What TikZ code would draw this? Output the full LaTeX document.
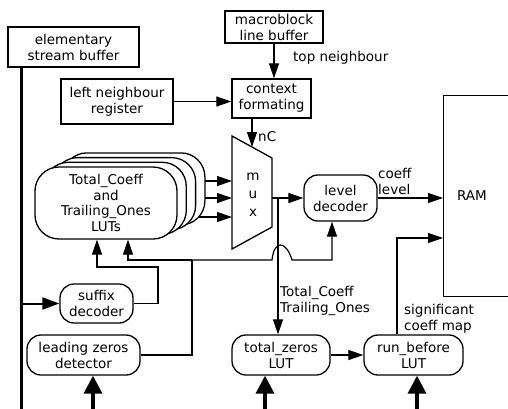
\documentclass[tikz,border=0pt]{standalone}
\usepackage{fontspec}
\setmainfont{DejaVu Sans}
\usetikzlibrary{arrows.meta,backgrounds,calc}
\begin{document}
\begin{tikzpicture}[x=1pt,y=-1pt,
  font=\fontsize{13.5}{16}\selectfont,
  box/.style={draw,line width=1.3pt,fill=white,align=center,inner sep=0pt},
  rbox/.style={box,rounded corners=14pt},
  outline/.style={draw,line width=1.3pt,fill=white},
  wire/.style={line width=1.2pt},
  arr/.style={wire,-{Triangle[length=15pt,width=10pt]}},
  medarr/.style={line width=2pt,-{Triangle[length=17pt,width=12pt]}},
  bigarr/.style={line width=3.5pt,-{Triangle[length=18pt,width=18pt]}},
  bus/.style={line width=3pt},
  lbl/.style={inner sep=1pt,align=left}
]
\useasboundingbox (0,0) rectangle (508,408);

% boxes
\node[box,minimum width=131pt,minimum height=40pt] (esb) at (73.5,47) {elementary\\stream buffer};
\node[box,minimum width=112pt,minimum height=45pt] (lnr) at (117,101.5) {left neighbour\\register};
\node[box,minimum width=98pt,minimum height=32pt] (mlb) at (274,27) {macroblock\\line buffer};
\node[box,minimum width=79pt,minimum height=39pt] (ctx) at (271.5,98.5) {context\\formating};

% LUT stack
\foreach \k in {3,2,1}{
  \node[box,rounded corners=24pt,minimum width=142pt,minimum height=72pt] (lut\k) at ({106+9.3*\k},{203-4.7*\k}) {};
}
\node[box,rounded corners=24pt,minimum width=142pt,minimum height=72pt,font=\fontsize{13.5}{15.7}\selectfont] (lut0) at (106,203) {Total\_Coeff\\and\\Trailing\_Ones\\LUTs};

% mux
\coordinate (m1) at (232,136);
\coordinate (m2) at (272,158);
\coordinate (m3) at (272,227);
\coordinate (m4) at (232,249);
\draw[outline] (m1) -- (m2) -- (m3) -- (m4) -- cycle;
\node[align=center,inner sep=0pt,font=\fontsize{13.5}{18}\selectfont] (muxlbl) at (253,195) {m\\u\\x};

\node[rbox,minimum width=73pt,minimum height=46pt] (lvl) at (340.5,198) {level\\decoder};
\node[box,minimum width=80pt,minimum height=201pt,anchor=north west] (ram) at (443,95) {};
\node (ramlbl) at (472,196) {RAM};

\node[rbox,minimum width=98pt,minimum height=40pt] (tz) at (281,355) {total\_zeros\\LUT};
\node[rbox,minimum width=99pt,minimum height=40pt] (rb) at (413.5,355) {run\_before\\LUT};
\node[rbox,minimum width=113pt,minimum height=40pt] (lzd) at (83.5,355) {leading zeros\\detector};
\node[rbox,minimum width=73pt,minimum height=39pt] (sfx) at (96.5,303.5) {suffix\\decoder};

% labels
\node[lbl,anchor=west] (ltop) at (292,58) {top neighbour};
\node[lbl,anchor=west] (lnc) at (257,137) {nC};
\node[lbl,anchor=west] (lcl) at (377,181) {coeff\\level};
\node[lbl,anchor=west] (ltc) at (279,301) {Total\_Coeff\\Trailing\_Ones};
\node[lbl,anchor=west] (lsig) at (403,319) {significant\\coeff map};

% LUT -> mux
\coordinate (in1) at (232,181);
\coordinate (in2) at (232,198);
\coordinate (in3) at (232,217);
\begin{scope}[on background layer]
  \draw[arr] (lut0.center |- in1) -- (in1);
  \draw[arr] (lut0.center |- in2) -- (in2);
  \draw[arr] (lut0.center |- in3) -- (in3);
\end{scope}

% top connectors
\draw[arr] (mlb.south) -- (ctx.north -| mlb.south);
\draw[arr] (lnr.east) -- (lnr.east -| ctx.west);
\coordinate (nc) at (252,147);
\draw[arr] (ctx.south -| nc) -- (nc);

% mux output
\coordinate (mo) at (272,198);
\coordinate (br) at (278,198);
\draw[arr] (mo) -- (mo -| lvl.west);
\draw[arr] (br) -- (br |- tz.north);
\draw[arr] (lvl.east) -- (lvl.east -| ram.west);

% total_zeros -> run_before -> RAM
\draw[arr] (tz.east) -- (rb.west);
\coordinate (sig) at (397,238);
\draw[arr] (rb.north -| sig) |- (sig -| ram.west);

% bus
\coordinate (bb) at (21,412);
\draw[bus] (esb.south -| bb) -- (bb);
\draw[medarr] (sfx.west -| bb) -- (sfx.west);

% feedback from suffix decoder
\coordinate (f1) at (158,267);
\coordinate (f1a) at (97,267);
\draw[arr] (sfx.east) -| (f1) -- (f1a) -- (f1a |- lut0.south);

% feedback from leading zeros detector
\coordinate (f2) at (192,260);
\coordinate (f2l) at (128,260);
\coordinate (h1) at (272,260);
\coordinate (h2) at (292,260);
\coordinate (f2r) at (332,260);
\draw[wire] (lzd.east) -| (f2);
\draw[arr] (f2) -- (f2l) -- (f2l |- lut0.south);
\draw[arr] (f2) -- (h1) .. controls (274,240) and (286,240) .. (h2) -- (f2r) -- (f2r |- lvl.south);

% bottom inputs
\coordinate (b1) at (93,410);
\coordinate (b2) at (265,410);
\coordinate (b3) at (417,410);
\draw[bigarr] (b1) -- (b1 |- lzd.south);
\draw[bigarr] (b2) -- (b2 |- tz.south);
\draw[bigarr] (b3) -- (b3 |- rb.south);
\end{tikzpicture}
\end{document}
